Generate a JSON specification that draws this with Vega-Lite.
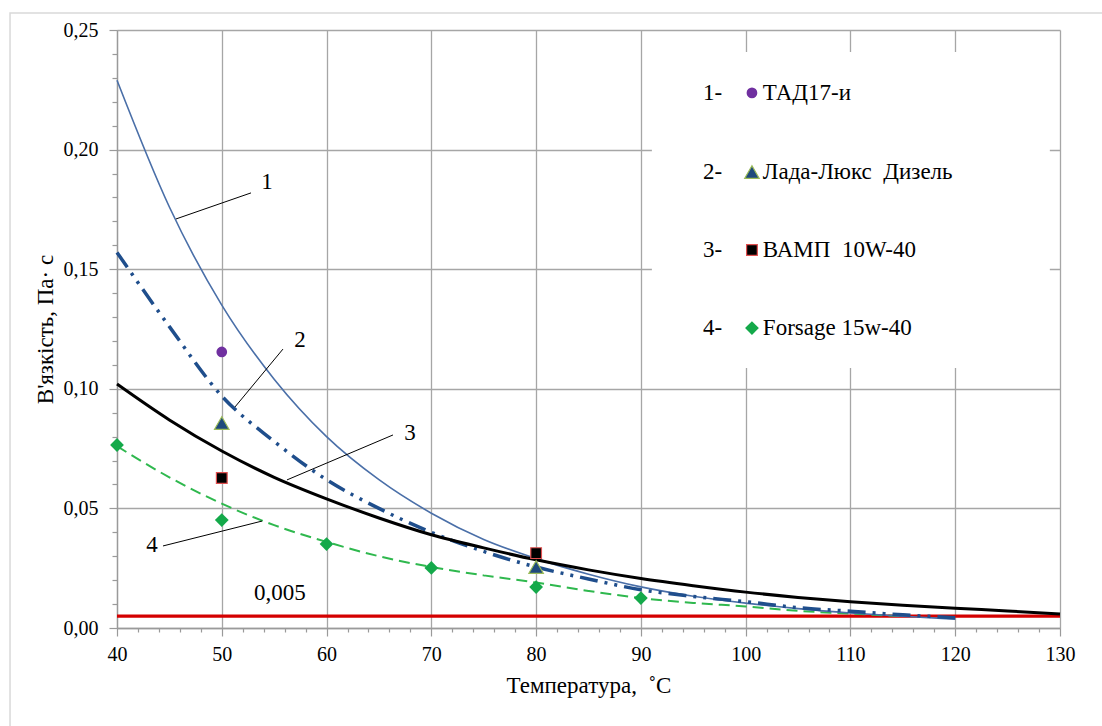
{
  "$schema": "https://vega.github.io/schema/vega-lite/v6.json",
  "autosize": {"type": "none"},
  "width": 943,
  "height": 598,
  "padding": {"left": 117, "top": 30, "right": 42, "bottom": 98},
  "background": "white",
  "config": {
    "font": "Liberation Serif",
    "view": {"stroke": null},
    "text": {"font": "Liberation Serif"},
    "axis": {
      "labelFont": "Liberation Serif",
      "titleFont": "Liberation Serif",
      "labelColor": "black",
      "titleColor": "black",
      "titleFontWeight": "normal",
      "domainColor": "#9a9a9a",
      "tickColor": "#9a9a9a",
      "gridColor": "#a6a6a6",
      "gridWidth": 1.3,
      "domainWidth": 1.3,
      "tickWidth": 1.2,
      "labelOverlap": false
    }
  },
  "resolve": {"axis": {"x": "independent", "y": "independent"}},
  "datasets": {
    "curves": [
      {"s": "1", "T": 40, "v": 0.229}, {"s": "1", "T": 45, "v": 0.176}, {"s": "1", "T": 50, "v": 0.135},
      {"s": "1", "T": 55, "v": 0.104}, {"s": "1", "T": 60, "v": 0.080}, {"s": "1", "T": 65, "v": 0.062},
      {"s": "1", "T": 70, "v": 0.048}, {"s": "1", "T": 75, "v": 0.037}, {"s": "1", "T": 80, "v": 0.029},
      {"s": "1", "T": 85, "v": 0.0225}, {"s": "1", "T": 90, "v": 0.0172}, {"s": "1", "T": 95, "v": 0.0133},
      {"s": "1", "T": 100, "v": 0.0104}, {"s": "1", "T": 105, "v": 0.0081}, {"s": "1", "T": 110, "v": 0.0063},
      {"s": "1", "T": 115, "v": 0.0049}, {"s": "1", "T": 120, "v": 0.0037},
      {"s": "2", "T": 40, "v": 0.157}, {"s": "2", "T": 45, "v": 0.126}, {"s": "2", "T": 50, "v": 0.097},
      {"s": "2", "T": 55, "v": 0.078}, {"s": "2", "T": 60, "v": 0.062}, {"s": "2", "T": 65, "v": 0.050},
      {"s": "2", "T": 70, "v": 0.040}, {"s": "2", "T": 75, "v": 0.032}, {"s": "2", "T": 80, "v": 0.0255},
      {"s": "2", "T": 85, "v": 0.0205}, {"s": "2", "T": 90, "v": 0.016}, {"s": "2", "T": 95, "v": 0.0132},
      {"s": "2", "T": 100, "v": 0.011}, {"s": "2", "T": 105, "v": 0.0085}, {"s": "2", "T": 110, "v": 0.007},
      {"s": "2", "T": 115, "v": 0.0055}, {"s": "2", "T": 120, "v": 0.0043},
      {"s": "3", "T": 40, "v": 0.102}, {"s": "3", "T": 45, "v": 0.087}, {"s": "3", "T": 50, "v": 0.074},
      {"s": "3", "T": 55, "v": 0.063}, {"s": "3", "T": 60, "v": 0.054}, {"s": "3", "T": 65, "v": 0.046},
      {"s": "3", "T": 70, "v": 0.039}, {"s": "3", "T": 75, "v": 0.0335}, {"s": "3", "T": 80, "v": 0.0285},
      {"s": "3", "T": 85, "v": 0.0243}, {"s": "3", "T": 90, "v": 0.0207}, {"s": "3", "T": 95, "v": 0.0177},
      {"s": "3", "T": 100, "v": 0.015}, {"s": "3", "T": 105, "v": 0.0128}, {"s": "3", "T": 110, "v": 0.011},
      {"s": "3", "T": 115, "v": 0.0095}, {"s": "3", "T": 120, "v": 0.0083}, {"s": "3", "T": 125, "v": 0.0071},
      {"s": "3", "T": 130, "v": 0.0059},
      {"s": "4", "T": 40, "v": 0.076}, {"s": "4", "T": 45, "v": 0.063}, {"s": "4", "T": 50, "v": 0.052},
      {"s": "4", "T": 55, "v": 0.043}, {"s": "4", "T": 60, "v": 0.036}, {"s": "4", "T": 65, "v": 0.030},
      {"s": "4", "T": 70, "v": 0.0255}, {"s": "4", "T": 75, "v": 0.022}, {"s": "4", "T": 80, "v": 0.019},
      {"s": "4", "T": 85, "v": 0.0155}, {"s": "4", "T": 90, "v": 0.0125}, {"s": "4", "T": 95, "v": 0.0105},
      {"s": "4", "T": 100, "v": 0.009}, {"s": "4", "T": 105, "v": 0.0072}, {"s": "4", "T": 110, "v": 0.006},
      {"s": "4", "T": 115, "v": 0.005}
    ],
    "points": [
      {"s": "1", "T": 50, "v": 0.1154},
      {"s": "1", "T": 100.6, "v": 0.2237},
      {"s": "2", "T": 50, "v": 0.0857}, {"s": "2", "T": 80, "v": 0.0255},
      {"s": "2", "T": 100.6, "v": 0.1906},
      {"s": "3", "T": 50, "v": 0.0627}, {"s": "3", "T": 80, "v": 0.0313},
      {"s": "3", "T": 100.6, "v": 0.158},
      {"s": "4", "T": 40, "v": 0.0765}, {"s": "4", "T": 50, "v": 0.0451}, {"s": "4", "T": 60, "v": 0.0351},
      {"s": "4", "T": 70, "v": 0.0251}, {"s": "4", "T": 80, "v": 0.0171}, {"s": "4", "T": 90, "v": 0.0125},
      {"s": "4", "T": 100.6, "v": 0.1254}
    ],
    "legend": [
      {"num": "1-", "label": "ТАД17-и", "T": 95.92, "TL": 101.64, "v": 0.2237},
      {"num": "2-", "label": "Лада-Люкс \u00a0Дизель", "T": 95.92, "TL": 101.64, "v": 0.1906},
      {"num": "3-", "label": "ВАМП \u00a010W-40", "T": 95.92, "TL": 101.64, "v": 0.158},
      {"num": "4-", "label": "Forsage 15w-40", "T": 95.92, "TL": 101.64, "v": 0.1254}
    ],
    "leaders": [
      {"id": "1", "T": 45.63, "v": 0.171, "T2": 52.79, "v2": 0.1819, "LT": 54.31, "Lv": 0.1865},
      {"id": "2", "T": 51.26, "v": 0.0924, "T2": 55.84, "v2": 0.1166, "LT": 57.46, "Lv": 0.1204},
      {"id": "3", "T": 56.22, "v": 0.0619, "T2": 66.34, "v2": 0.0807, "LT": 67.96, "Lv": 0.0815},
      {"id": "4", "T": 44.39, "v": 0.0343, "T2": 53.84, "v2": 0.0447, "LT": 43.34, "Lv": 0.0347}
    ]
  },
  "layer": [
    {
      "data": {"values": [{"T": 29.79, "T2": 137, "v": 0.2571, "v2": -0.06}]},
      "mark": {"type": "rect", "fillOpacity": 0, "stroke": "#d9d9d9", "strokeWidth": 1.5, "clip": false},
      "encoding": {
        "x": {"field": "T", "type": "quantitative", "scale": {"domain": [40, 130], "nice": false, "zero": false},
          "axis": {
            "orient": "bottom",
            "values": [40, 50, 60, 70, 80, 90, 100, 110, 120, 130],
            "grid": true,
            "tickSize": 8,
            "labelFontSize": 20,
            "labelPadding": 8,
            "labelFlush": false,
            "title": "Температура, \u00a0˚С",
            "titleFontSize": 23,
            "titleY": 57,
            "titleBaseline": "middle"
          }},
        "x2": {"field": "T2"},
        "y": {"field": "v", "type": "quantitative", "scale": {"domain": [0, 0.25], "nice": false, "zero": false},
          "axis": {
            "orient": "left",
            "values": [0, 0.05, 0.1, 0.15, 0.2, 0.25],
            "labelExpr": "replace(format(datum.value, '.2f'), '.', ',')",
            "grid": true,
            "tickSize": 8,
            "labelFontSize": 20,
            "labelPadding": 11,
            "labelFlush": false,
            "title": "В'язкість, Па· с",
            "titleFontSize": 23,
            "titleX": -72,
            "titleY": 299,
            "titleAngle": -90,
            "titleAlign": "center",
            "titleBaseline": "middle"
          }},
        "y2": {"field": "v2"}
      }
    },
    {
      "data": {"values": [{"T": 91.05, "T2": 129.03, "v": 0.2408, "v2": 0.1087}]},
      "mark": {"type": "rect", "fill": "white"},
      "encoding": {
        "x": {"field": "T", "type": "quantitative",
          "axis": {
            "orient": "bottom",
            "values": [42,44,46,48,52,54,56,58,62,64,66,68,72,74,76,78,82,84,86,88,92,94,96,98,102,104,106,108,112,114,116,118,122,124,126,128],
            "grid": false, "labels": false, "domain": false, "title": null, "tickSize": 4
          }},
        "x2": {"field": "T2"},
        "y": {"field": "v", "type": "quantitative",
          "axis": {
            "orient": "left",
            "values": [0.01,0.02,0.03,0.04,0.06,0.07,0.08,0.09,0.11,0.12,0.13,0.14,0.16,0.17,0.18,0.19,0.21,0.22,0.23,0.24],
            "grid": false, "labels": false, "domain": false, "title": null, "tickSize": 5
          }},
        "y2": {"field": "v2"}
      }
    },
    {
      "data": {"values": [{"T": 40, "T2": 130, "v": 0.005}]},
      "mark": {"type": "rule", "color": "#d40000", "strokeWidth": 3.3},
      "encoding": {
        "x": {"field": "T", "type": "quantitative", "axis": null},
        "x2": {"field": "T2"},
        "y": {"field": "v", "type": "quantitative", "axis": null}
      }
    },
    {
      "data": {"name": "curves"},
      "transform": [{"filter": "datum.s === '4'"}],
      "mark": {"type": "line", "color": "#2fb84e", "strokeWidth": 2, "strokeDash": [11, 6], "interpolate": "monotone"},
      "encoding": {"x": {"field": "T", "type": "quantitative", "axis": null}, "y": {"field": "v", "type": "quantitative", "axis": null}}
    },
    {
      "data": {"name": "curves"},
      "transform": [{"filter": "datum.s === '1'"}],
      "mark": {"type": "line", "color": "#4a6fa8", "strokeWidth": 1.6, "interpolate": "monotone"},
      "encoding": {"x": {"field": "T", "type": "quantitative", "axis": null}, "y": {"field": "v", "type": "quantitative", "axis": null}}
    },
    {
      "data": {"name": "curves"},
      "transform": [{"filter": "datum.s === '2'"}],
      "mark": {"type": "line", "color": "#1f4e8c", "strokeWidth": 3.5, "strokeDash": [18, 7, 3, 7, 3, 7], "interpolate": "monotone"},
      "encoding": {"x": {"field": "T", "type": "quantitative", "axis": null}, "y": {"field": "v", "type": "quantitative", "axis": null}}
    },
    {
      "data": {"name": "curves"},
      "transform": [{"filter": "datum.s === '3'"}],
      "mark": {"type": "line", "color": "black", "strokeWidth": 3, "interpolate": "monotone"},
      "encoding": {"x": {"field": "T", "type": "quantitative", "axis": null}, "y": {"field": "v", "type": "quantitative", "axis": null}}
    },
    {
      "data": {"name": "leaders"},
      "mark": {"type": "rule", "color": "black", "strokeWidth": 1},
      "encoding": {
        "x": {"field": "T", "type": "quantitative", "axis": null},
        "x2": {"field": "T2"},
        "y": {"field": "v", "type": "quantitative", "axis": null},
        "y2": {"field": "v2"}
      }
    },
    {
      "data": {"name": "leaders"},
      "mark": {"type": "text", "fontSize": 23, "color": "black", "align": "center", "baseline": "middle", "font": "Liberation Serif"},
      "encoding": {
        "x": {"field": "LT", "type": "quantitative", "axis": null},
        "y": {"field": "Lv", "type": "quantitative", "axis": null},
        "text": {"field": "id"}
      }
    },
    {
      "data": {"values": [{"T": 55.55, "v": 0.0146, "t": "0,005"}]},
      "mark": {"type": "text", "fontSize": 23, "color": "black", "align": "center", "baseline": "middle", "font": "Liberation Serif"},
      "encoding": {
        "x": {"field": "T", "type": "quantitative", "axis": null},
        "y": {"field": "v", "type": "quantitative", "axis": null},
        "text": {"field": "t"}
      }
    },
    {
      "data": {"name": "points"},
      "transform": [{"filter": "datum.s === '1'"}],
      "mark": {"type": "point", "shape": "circle", "filled": true, "fill": "#7030a0", "strokeWidth": 0, "size": 115, "opacity": 1},
      "encoding": {"x": {"field": "T", "type": "quantitative", "axis": null}, "y": {"field": "v", "type": "quantitative", "axis": null}}
    },
    {
      "data": {"name": "points"},
      "transform": [{"filter": "datum.s === '2'"}],
      "mark": {"type": "point", "shape": "triangle-up", "filled": true, "fill": "#1f497d", "stroke": "#9bbb59", "strokeWidth": 1.2, "size": 210, "opacity": 1},
      "encoding": {"x": {"field": "T", "type": "quantitative", "axis": null}, "y": {"field": "v", "type": "quantitative", "axis": null}}
    },
    {
      "data": {"name": "points"},
      "transform": [{"filter": "datum.s === '3'"}],
      "mark": {"type": "point", "shape": "square", "filled": true, "fill": "black", "stroke": "#e05050", "strokeWidth": 1.2, "size": 115, "opacity": 1},
      "encoding": {"x": {"field": "T", "type": "quantitative", "axis": null}, "y": {"field": "v", "type": "quantitative", "axis": null}}
    },
    {
      "data": {"name": "points"},
      "transform": [{"filter": "datum.s === '4'"}],
      "mark": {"type": "point", "shape": "diamond", "filled": true, "fill": "#14a94a", "strokeWidth": 0, "size": 190, "opacity": 1},
      "encoding": {"x": {"field": "T", "type": "quantitative", "axis": null}, "y": {"field": "v", "type": "quantitative", "axis": null}}
    },
    {
      "data": {"name": "legend"},
      "mark": {"type": "text", "fontSize": 23, "color": "black", "align": "left", "baseline": "middle", "font": "Liberation Serif"},
      "encoding": {
        "x": {"field": "T", "type": "quantitative", "axis": null},
        "y": {"field": "v", "type": "quantitative", "axis": null},
        "text": {"field": "num"}
      }
    },
    {
      "data": {"name": "legend"},
      "mark": {"type": "text", "fontSize": 23, "color": "black", "align": "left", "baseline": "middle", "font": "Liberation Serif"},
      "encoding": {
        "x": {"field": "TL", "type": "quantitative", "axis": null},
        "y": {"field": "v", "type": "quantitative", "axis": null},
        "text": {"field": "label"}
      }
    }
  ]
}
